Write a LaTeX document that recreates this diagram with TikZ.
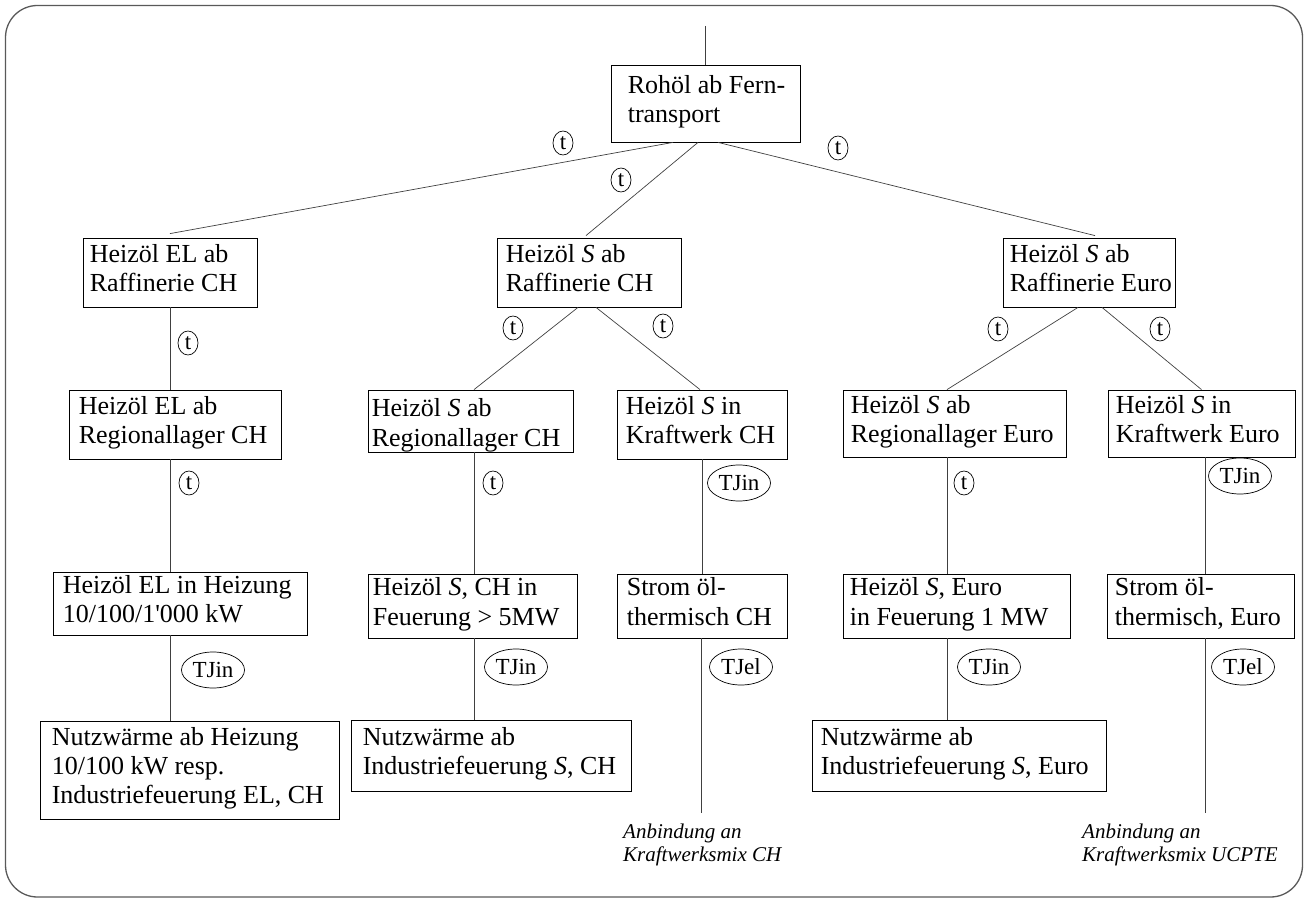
\documentclass[tikz,border=0pt]{standalone}
\usepackage{fontspec}
\setmainfont{Liberation Serif}
\usetikzlibrary{shapes.geometric}

% framed box with left-aligned text:
% [text drop], name, x1, x2, y1, y2, left margin, text
\newcommand\tbox[8][0]{%
  \node[box, minimum width={#4-#3}, minimum height={#6-#5}] (#2) at ({(#3+#4)/2},{(#5+#6)/2}) {};
  \node[txt] (#2-t) at ([xshift=#7pt, yshift=-#1pt]#2.west) {#8};}

\begin{document}
\begin{tikzpicture}[x=1pt,y=-1pt,
  box/.style={draw=black, line width=0.8pt, rectangle, inner sep=0pt},
  txt/.style={anchor=west, align=left, inner sep=0pt,
    font=\fontsize{26}{29.3}\selectfont,
    execute at begin node=\strut, execute at end node=\strut},
  note/.style={anchor=west, align=left, inner sep=0pt,
    font=\fontsize{21}{23.5}\selectfont\itshape,
    execute at begin node=\strut, execute at end node=\strut},
  tlab/.style={draw=black, ellipse, line width=0.7pt, inner sep=0pt,
    minimum width=20pt, minimum height=24pt, font=\fontsize{23}{26}\selectfont},
  tjlab/.style={tlab, minimum width=63pt, minimum height=36pt},
  link/.style={draw=black!75, line width=0.7pt}]

\useasboundingbox (0,0) rectangle (1308,901);

% outer frame
\draw[black!65, line width=1.3pt, rounded corners=32pt] (5.5,5.5) rectangle (1302.5,897);

% boxes
\tbox{R}{611}{800}{65}{142}{17}{Rohöl ab Fern-\\transport}
\tbox{A}{83}{257}{238}{307}{7}{Heizöl EL ab\\Raffinerie CH}
\tbox{B}{497}{681}{238}{307}{9}{Heizöl \textit{S} ab\\Raffinerie CH}
\tbox{C}{1003}{1175}{238}{307}{7}{Heizöl \textit{S} ab\\Raffinerie Euro}
\tbox{D}{69}{281}{390}{459}{10}{Heizöl EL ab\\Regionallager CH}
\tbox[6]{E}{368}{573}{390}{452}{4}{Heizöl \textit{S} ab\\Regionallager CH}
\tbox{F}{617}{787}{390}{459}{9}{Heizöl \textit{S} in\\Kraftwerk CH}
\tbox{G}{843}{1066}{390}{457}{8}{Heizöl \textit{S} ab\\Regionallager Euro}
\tbox{H}{1108}{1295}{390}{457}{8}{Heizöl \textit{S} in\\Kraftwerk Euro}
\tbox{I}{53}{307}{572}{635}{10}{Heizöl EL in Heizung\\10/100/1\textquotesingle000 kW}
\tbox{J}{368}{577}{574}{638}{5}{Heizöl \textit{S}, CH in\\Feuerung > 5MW}
\tbox{K}{617}{787}{574}{638}{10}{Strom öl-\\thermisch CH}
\tbox{L}{843}{1070}{574}{638}{7}{Heizöl \textit{S}, Euro\\in Feuerung 1 MW}
\tbox{M}{1107}{1294}{574}{638}{8}{Strom öl-\\thermisch, Euro}
\tbox{N}{40}{339}{721}{819}{12}{Nutzwärme ab Heizung\\10/100 kW resp.\\Industriefeuerung EL, CH}
\tbox{O}{351}{631}{720}{791}{12}{Nutzwärme ab\\Industriefeuerung \textit{S}, CH}
\tbox{P}{812}{1106}{720}{791}{9}{Nutzwärme ab\\Industriefeuerung \textit{S}, Euro}

% free line ends
\coordinate (top) at (705.5,26);
\coordinate (kend) at (701,813);
\coordinate (mend) at (1205,813);
\coordinate (gx) at (947,0);

% connectors
\draw[link] (top) -- (R.north);
\draw[link] ([xshift=-32.5pt]R.south) -- ([yshift=4pt]A.north);
\draw[link] ([xshift=-7.5pt]R.south) -- ([xshift=-3pt,yshift=2pt]B.north);
\draw[link] ([xshift=12.5pt]R.south) -- ([xshift=6pt,yshift=2pt]C.north);

\draw[link] (A.south) -- (A.south |- D.north);
\draw[link] ([xshift=-11pt]B.south) -- ([xshift=3.5pt]E.north);
\draw[link] ([xshift=7pt]B.south) -- ([xshift=-2pt]F.north);
\draw[link] ([xshift=-11pt]C.south) -- (gx |- G.north);
\draw[link] ([xshift=13pt]C.south) -- (H.north);

\draw[link] (A.south |- D.south) -- (A.south |- I.north);
\draw[link] ([xshift=3.5pt]E.south) -- ([xshift=1.5pt]J.north);
\draw[link] (F.south) -- (F.south |- K.north);
\draw[link] (gx |- G.south) -- (gx |- L.north);
\draw[link] ([xshift=3.5pt]H.south) -- ([xshift=3.5pt]H.south |- M.north);

\draw[link] (A.south |- I.south) -- (A.south |- N.north);
\draw[link] ([xshift=1.5pt]J.south) -- ([xshift=1.5pt]J.south |- O.north);
\draw[link] (K.south -| kend) -- (kend);
\draw[link] (gx |- L.south) -- (gx |- P.north);
\draw[link] (M.south -| mend) -- (mend);

% transport / energy labels
\node[tlab] (lRA) at (563,143) {t};
\node[tlab] (lRB) at (621,180) {t};
\node[tlab] (lRC) at (838,148) {t};
\node[tlab] (lAD) at (188,343) {t};
\node[tlab] (lBE) at (513,328) {t};
\node[tlab] (lBF) at (663,326) {t};
\node[tlab] (lCG) at (998,329) {t};
\node[tlab] (lCH) at (1160,329) {t};
\node[tlab] (lDI) at (189,483) {t};
\node[tlab] (lEJ) at (493,483) {t};
\node[tjlab] (lFK) at (739,483) {TJin};
\node[tlab] (lGL) at (964,483) {t};
\node[tjlab] (lHM) at (1240,476) {TJin};
\node[tjlab] (lIN) at (213,670) {TJin};
\node[tjlab] (lJO) at (516,667) {TJin};
\node[tjlab] (lKE) at (741,667) {TJel};
\node[tjlab] (lLP) at (989,667) {TJin};
\node[tjlab] (lME) at (1243,667) {TJel};

% notes below the power lines
\node[note] (nCH) at (623,846) {Anbindung an\\Kraftwerksmix CH};
\node[note] (nEU) at (1082,846) {Anbindung an\\Kraftwerksmix UCPTE};

\end{tikzpicture}
\end{document}
